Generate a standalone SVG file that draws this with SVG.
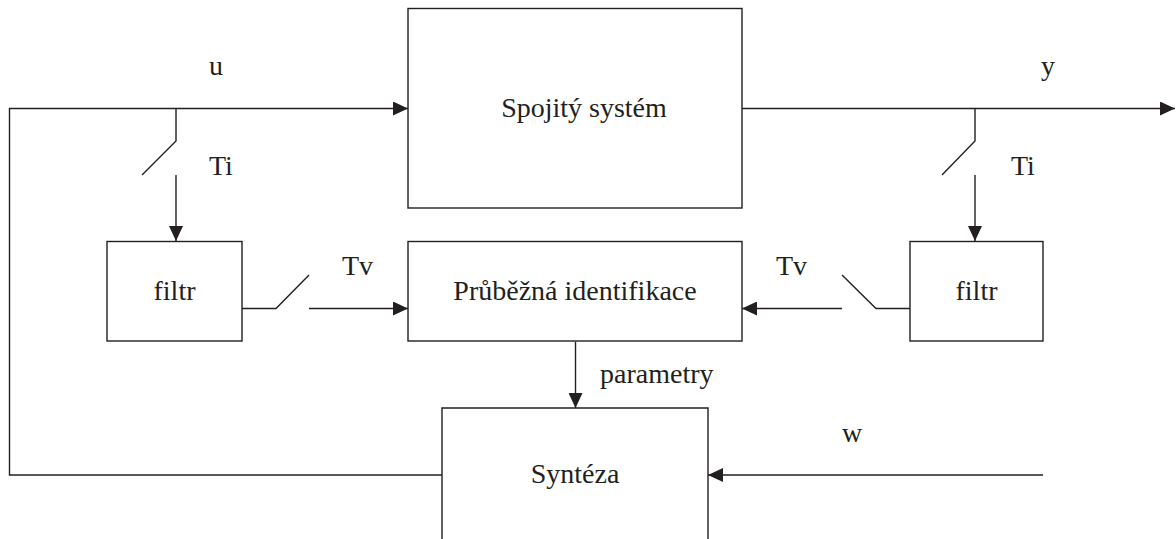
<svg xmlns="http://www.w3.org/2000/svg" width="1176" height="539" viewBox="0 0 1176 539">
<style>
.box{fill:#fff;stroke:#231f20;stroke-width:1.4}
.ln{fill:none;stroke:#231f20;stroke-width:1.4}
.t{font-family:"Liberation Serif","Times New Roman",serif;font-size:28px;fill:#231f20}
.m{text-anchor:middle}
</style>
<defs>
<marker id="ah" viewBox="0 0 15 14" refX="15" refY="7" markerWidth="15" markerHeight="14" markerUnits="userSpaceOnUse" orient="auto">
<path d="M0,0 L15,7 L0,14 Z" fill="#231f20"/>
</marker>
</defs>
<g id="connectors">
<path class="ln" d="M442,475 H9.5 V108.5 H408" marker-end="url(#ah)"/>
<path class="ln" d="M742,108.5 H1175" marker-end="url(#ah)"/>
<path class="ln" d="M176,108.5 V141 L142,175"/>
<path class="ln" d="M176,175 V241" marker-end="url(#ah)"/>
<path class="ln" d="M975,108.5 V141 L942,175"/>
<path class="ln" d="M975,175 V241" marker-end="url(#ah)"/>
<path class="ln" d="M242,308.5 H276 L309,275"/>
<path class="ln" d="M309,308.5 H408" marker-end="url(#ah)"/>
<path class="ln" d="M910,308.5 H876 L842,275"/>
<path class="ln" d="M842,308.5 H742" marker-end="url(#ah)"/>
<path class="ln" d="M575.5,341.5 V408" marker-end="url(#ah)"/>
<path class="ln" d="M1043,475 H708" marker-end="url(#ah)"/>
</g>
<g id="spojity">
<rect class="box" x="408" y="8.5" width="334" height="199.5"/>
<text class="t m" x="584" y="117">Spojitý systém</text>
</g>
<g id="filtr-left">
<rect class="box" x="107" y="241.5" width="135" height="99.5"/>
<text class="t m" x="174.5" y="300">filtr</text>
</g>
<g id="identifikace">
<rect class="box" x="408" y="241.5" width="334" height="99.5"/>
<text class="t m" x="575" y="300">Průběžná identifikace</text>
</g>
<g id="filtr-right">
<rect class="box" x="910" y="241.5" width="133" height="99.5"/>
<text class="t m" x="976.5" y="300">filtr</text>
</g>
<g id="synteza">
<path class="ln" d="M442,540 V408 H708 V540"/>
<text class="t m" x="575" y="483">Syntéza</text>
</g>
<g id="labels">
<text class="t" x="209" y="75">u</text>
<text class="t" x="1041" y="75">y</text>
<text class="t" x="209" y="175">Ti</text>
<text class="t" x="1011" y="175">Ti</text>
<text class="t" x="342" y="275">Tv</text>
<text class="t" x="776" y="275">Tv</text>
<text class="t" x="600" y="383">parametry</text>
<text class="t" x="842" y="442">w</text>
</g>
</svg>
